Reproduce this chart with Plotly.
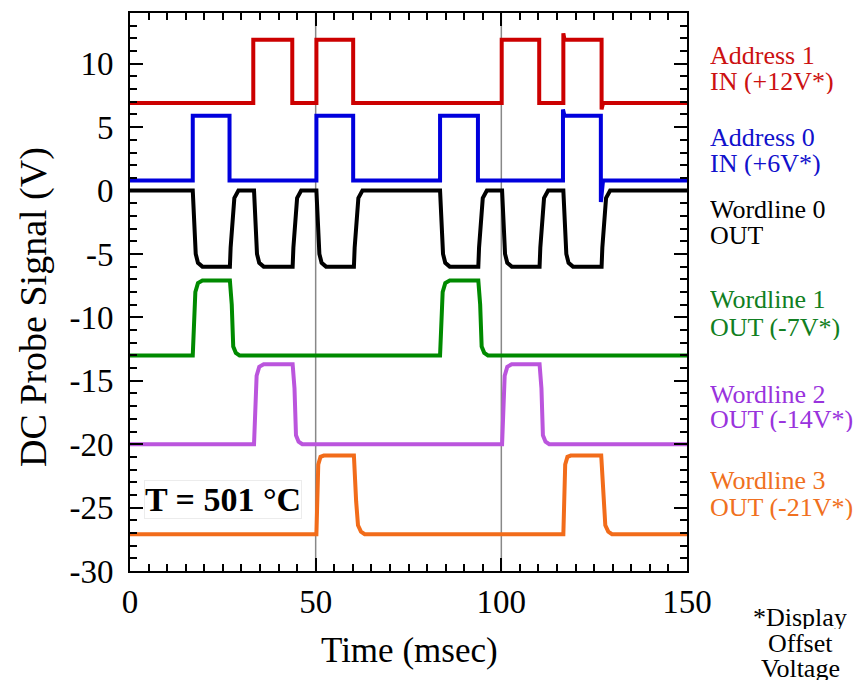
import plotly.graph_objects as go

# ---------------- data ----------------
ADDR1_T = [0, 33.2, 33.2, 43.7, 43.7, 50.2, 50.2, 60.1, 60.1, 100.1, 100.1, 110.2, 110.2,
           116.7, 116.7, 117.0, 127.0, 127.0, 127.4, 150]
ADDR1_V = [6.9, 6.9, 11.9, 11.9, 6.9, 6.9, 11.9, 11.9, 6.9, 6.9, 11.9, 11.9, 6.9,
           6.9, 12.4, 11.9, 11.9, 6.4, 6.9, 6.9]

ADDR0_T = [0, 16.9, 16.9, 26.8, 26.8, 50.2, 50.2, 60.1, 60.1, 83.5, 83.5, 93.7, 93.7,
           116.6, 116.6, 117.0, 126.8, 126.8, 127.4, 150]
ADDR0_V = [0.8, 0.8, 5.9, 5.9, 0.8, 0.8, 5.9, 5.9, 0.8, 0.8, 5.9, 5.9, 0.8,
           0.8, 6.4, 5.9, 5.9, -0.9, 0.8, 0.8]

WL0_T = [0, 16.9, 17.7, 18.3, 19.5, 26.9, 27.1, 27.6, 28.1, 29.2,
         33.4, 34.2, 34.8, 36.0, 43.8, 44.0, 44.5, 45.0, 46.1,
         50.2, 51.0, 51.6, 52.8, 60.3, 60.5, 61.0, 61.5, 62.6,
         83.5, 84.3, 84.9, 86.1, 93.8, 94.0, 94.5, 95.0, 96.1,
         100.2, 101.0, 101.6, 102.8, 110.3, 110.5, 111.0, 111.5, 112.6,
         116.7, 117.5, 118.1, 119.3, 127.0, 127.2, 127.7, 128.2, 129.3, 150]
WL0_V = [0, 0, -5.0, -5.7, -6.0, -6.0, -4.5, -1.9, -0.6, 0,
         0, -5.0, -5.7, -6.0, -6.0, -4.5, -1.9, -0.6, 0,
         0, -5.0, -5.7, -6.0, -6.0, -4.5, -1.9, -0.6, 0,
         0, -5.0, -5.7, -6.0, -6.0, -4.5, -1.9, -0.6, 0,
         0, -5.0, -5.7, -6.0, -6.0, -4.5, -1.9, -0.6, 0,
         0, -5.0, -5.7, -6.0, -6.0, -4.5, -1.9, -0.6, 0, 0]

WL1_T = [0, 16.9, 17.6, 18.3, 19.5, 26.9, 27.4, 27.8, 28.5, 29.5,
         83.5, 84.2, 84.9, 86.1, 93.8, 94.3, 94.7, 95.4, 96.4, 150]
WL1_V = [-13, -13, -8.0, -7.3, -7.1, -7.1, -9.0, -12.3, -12.8, -13,
         -13, -8.0, -7.3, -7.1, -7.1, -9.0, -12.3, -12.8, -13, -13]

WL2_T = [0, 33.4, 34.1, 34.8, 36.0, 43.8, 44.3, 44.7, 45.4, 46.4,
         100.2, 100.9, 101.6, 102.8, 110.3, 110.8, 111.2, 111.9, 112.9, 150]
WL2_V = [-20, -20, -14.6, -13.9, -13.7, -13.7, -15.6, -19.3, -19.8, -20,
         -20, -14.6, -13.9, -13.7, -13.7, -15.6, -19.3, -19.8, -20, -20]

WL3_T = [0, 50.2, 50.7, 51.3, 52.2, 60.3, 60.9, 61.4, 62.2, 63.2,
         116.7, 117.2, 117.8, 118.7, 126.9, 127.5, 128.0, 128.8, 129.8, 150]
WL3_V = [-27.1, -27.1, -21.6, -21.0, -20.9, -20.9, -24.5, -26.4, -26.9, -27.1,
         -27.1, -21.6, -21.0, -20.9, -20.9, -24.5, -26.4, -26.9, -27.1, -27.1]

X_TICKS = [0, 50, 100, 150]
X_TICK_TEXT = ["0", "50", "100", "150"]
Y_TICKS = [-30, -25, -20, -15, -10, -5, 0, 5, 10]
Y_TICK_TEXT = ["-30", "-25", "-20", "-15", "-10", "-5", "0", "5", "10"]
MARKER_TIMES = [50, 100]

SERIES = [
    ("Address 1", ADDR1_T, ADDR1_V, "#CC0000"),
    ("Address 0", ADDR0_T, ADDR0_V, "#0000DD"),
    ("Wordline 0", WL0_T, WL0_V, "#000000"),
    ("Wordline 1", WL1_T, WL1_V, "#008A00"),
    ("Wordline 2", WL2_T, WL2_V, "#BB55DD"),
    ("Wordline 3", WL3_T, WL3_V, "#F26C1A"),
]

LABELS = [
    ("Address 1", "#CC1111", 55), ("IN (+12V*)", "#CC1111", 81),
    ("Address 0", "#1111CC", 138), ("IN (+6V*)", "#1111CC", 164),
    ("Wordline 0", "#000000", 209), ("OUT", "#000000", 235),
    ("Wordline 1", "#117F22", 299), ("OUT (-7V*)", "#117F22", 327),
    ("Wordline 2", "#9933DD", 394), ("OUT (-14V*)", "#9933DD", 419),
    ("Wordline 3", "#F07020", 480), ("OUT (-21V*)", "#F07020", 507),
]
NOTE_LINES = [("*Display", 617), ("Offset", 643), ("Voltage", 668)]

# ---------------- layout geometry ----------------
W, H = 858, 681
L, R, T, B = 130, 171, 13, 110
PW, PH = W - L - R, H - T - B
FONT = "Liberation Serif"


def px_x(px):
    return (px - L) / PW


def px_y(py):
    return (H - B - py) / PH


fig = go.Figure()
for name, t, v, c in SERIES:
    fig.add_trace(go.Scatter(x=t, y=v, mode="lines", name=name,
                             line=dict(color=c, width=4), showlegend=False))

for xv in MARKER_TIMES:
    fig.add_shape(type="line", x0=xv, x1=xv, y0=0, y1=1, xref="x", yref="paper",
                  line=dict(color="#888888", width=1.5), layer="below")

ann = []
for text, col, py in LABELS:
    ann.append(dict(text=text, x=px_x(708), y=px_y(py), xref="paper", yref="paper",
                    xanchor="left", yanchor="middle", showarrow=False, height=25,
                    font=dict(family=FONT, size=26, color=col)))
for text, py in NOTE_LINES:
    ann.append(dict(text=text, x=px_x(800), y=px_y(py), xref="paper", yref="paper",
                    xanchor="center", yanchor="middle", showarrow=False, height=24,
                    font=dict(family=FONT, size=26, color="black")))
ann.append(dict(text="Time (msec)", x=px_x(409), y=px_y(650), xref="paper", yref="paper",
                xanchor="center", yanchor="middle", showarrow=False,
                font=dict(family=FONT, size=35, color="black")))
ann.append(dict(text="DC Probe Signal (V)", x=px_x(33), y=px_y(307), xref="paper", yref="paper",
                xanchor="center", yanchor="middle", showarrow=False, textangle=-90,
                font=dict(family=FONT, size=38, color="black")))
ann.append(dict(text="<b>T = 501 °C</b>", x=px_x(223), y=px_y(499), xref="paper", yref="paper",
                xanchor="center", yanchor="middle", showarrow=False,
                bgcolor="white", bordercolor="#ececec", borderwidth=1, borderpad=0,
                font=dict(family=FONT, size=34, color="black")))

axis_common = dict(showline=True, linecolor="black", linewidth=2, mirror="allticks",
                   ticks="inside", ticklen=13, tickwidth=1.5, tickcolor="black",
                   showgrid=False, zeroline=False,
                   tickfont=dict(family=FONT, size=33, color="black"))

fig.update_layout(
    width=W, height=H,
    margin=dict(l=L, r=R, t=T, b=B),
    paper_bgcolor="white", plot_bgcolor="white",
    xaxis=dict(range=[0, 150], tickmode="array", tickvals=X_TICKS, ticktext=X_TICK_TEXT,
               minor=dict(dtick=5, tick0=0, ticks="inside", ticklen=7, tickwidth=1.5,
                          tickcolor="black"),
               **axis_common),
    yaxis=dict(range=[-30, 14], tickmode="array", tickvals=Y_TICKS, ticktext=Y_TICK_TEXT,
               minor=dict(dtick=1, tick0=0, ticks="inside", ticklen=7, tickwidth=1.5,
                          tickcolor="black"),
               ticklabelstandoff=8,
               **axis_common),
    annotations=ann,
)

fig.write_html("out.html")
